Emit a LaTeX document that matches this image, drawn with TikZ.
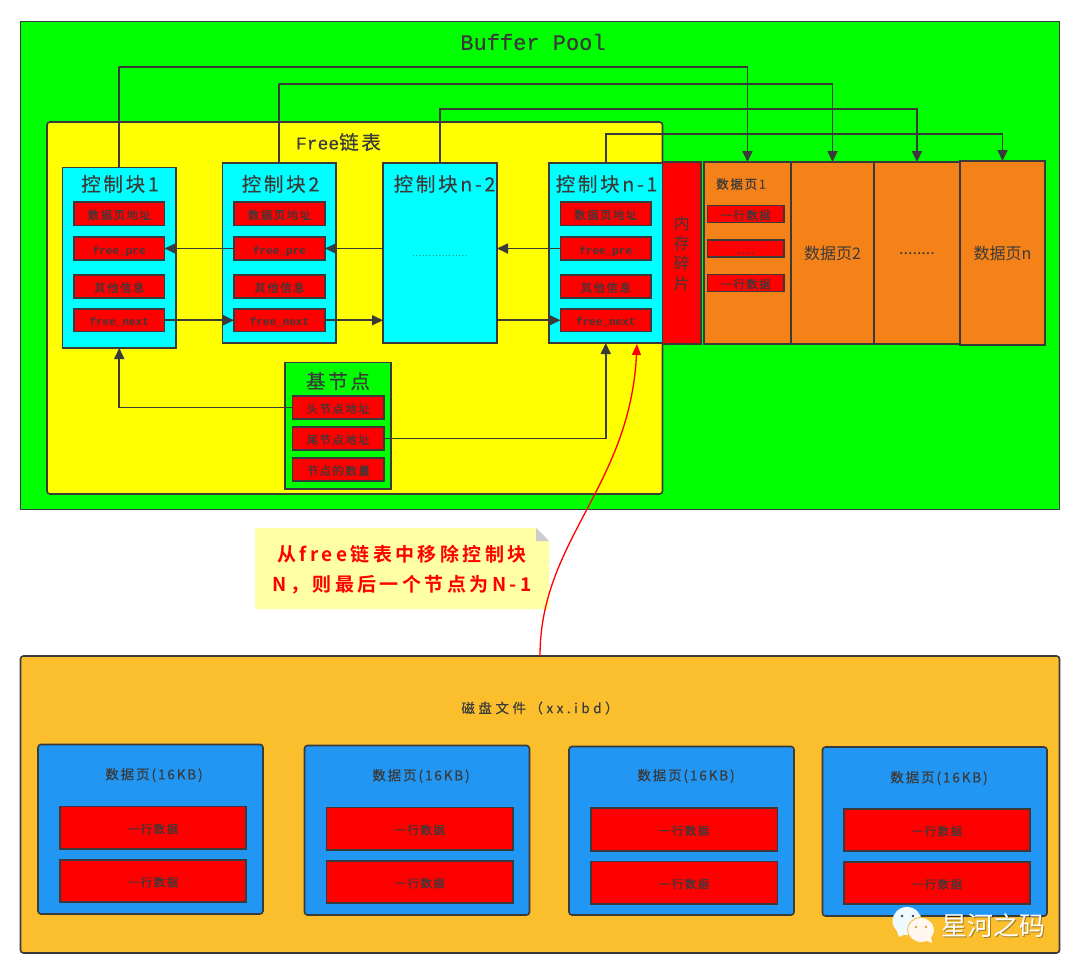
\documentclass[tikz,border=0pt]{standalone}
\usepackage{fontspec}
\usetikzlibrary{arrows.meta,calc}
\setmainfont{Noto Sans CJK SC}
\newfontfamily\cjk[LetterSpace=14]{Noto Sans CJK SC}
\newfontfamily\cjksmall[LetterSpace=12,FakeBold=0.5]{Noto Sans CJK SC}
\newfontfamily\cjkwide[LetterSpace=26,FakeBold=0.3]{Noto Sans CJK SC}
\newfontfamily\cjkhead[LetterSpace=14,FakeBold=0.3]{Noto Sans CJK SC}
\newfontfamily\cjkplain{Noto Sans CJK SC}
\newfontfamily\cjkbold[LetterSpace=18]{Noto Sans CJK SC Bold}
\newfontfamily\mono[FakeBold=0.3]{Liberation Mono}
\newfontfamily\monobold{Liberation Mono Bold}
\definecolor{ink}{HTML}{3A3A3A}
\definecolor{poolgreen}{HTML}{00FF00}
\definecolor{freeyellow}{HTML}{FFFF00}
\definecolor{ctrlcyan}{HTML}{00FFFF}
\definecolor{redfill}{HTML}{FF0000}
\definecolor{pageorange}{HTML}{F58218}
\definecolor{diskamber}{HTML}{FBBF2D}
\definecolor{pageblue}{HTML}{2196F3}
\definecolor{notefill}{HTML}{FFFFA6}
\definecolor{notefold}{HTML}{CCCCCC}
\tikzset{
  every node/.style={inner sep=0pt,outer sep=0pt,text=ink},
  box/.style={draw=ink,line width=1.6pt,align=center},
  pool/.style={box,fill=poolgreen},
  freelist/.style={box,fill=freeyellow,rounded corners=3pt},
  ctrl/.style={box,fill=ctrlcyan},
  field/.style={box,fill=redfill,font=\cjksmall\fontsize{11.5}{12}\selectfont,text height=11pt,text depth=0pt},
  latinfield/.style={field,font=\monobold\fontsize{11}{12}\selectfont},
  basebox/.style={box,fill=poolgreen},
  frag/.style={box,fill=redfill,font=\cjkplain\fontsize{16}{20}\selectfont},
  datapage/.style={box,fill=pageorange,font=\cjkplain\fontsize{16}{18}\selectfont},
  disk/.style={box,fill=diskamber,rounded corners=3pt},
  diskpage/.style={box,fill=pageblue,rounded corners=3pt},
  rowbox/.style={box,fill=redfill,font=\cjksmall\fontsize{11.5}{12}\selectfont,text height=11pt,text depth=0pt},
  heading/.style={font=\cjkhead\fontsize{19.5}{22}\selectfont},
  smallhead/.style={font=\cjkhead\fontsize{13.5}{14}\selectfont},
  link/.style={draw=ink,line width=1.7pt,-{Triangle[length=11pt,width=10pt]}},
  redlink/.style={draw=red,line width=1.3pt,-{Triangle[length=11pt,width=9pt]}},
  mark text/.style={text=white,font=\cjkplain\fontsize{26}{28}\selectfont},
}
\newcommand{\bx}[7][]{\node[#6,minimum width={(#4-#2)*1pt},minimum height={(#5-#3)*1pt},#1] at ({(#2+#4)/2},{(#3+#5)/2}) {#7};}
\begin{document}
\begin{tikzpicture}[x=1pt,y=-1pt]
\useasboundingbox (0,0) rectangle (1080,974);
\fill[white] (0,0) rectangle (1080,974);
% buffer pool
\bx[name=pool]{20.5}{21.5}{1059.5}{509.5}{pool}{}
\node[font=\mono\fontsize{22}{24}\selectfont] (pooltitle) at (533,42) {Buffer Pool};
\bx[name=free]{47}{122}{662.5}{494}{freelist}{}
\node[font=\mono\fontsize{18}{20}\selectfont,anchor=west] (freelabel) at (296,142) {Free\cjkhead\fontsize{19.5}{20}\selectfont 链表};
% control blocks
\bx[name=c1]{62.5}{167.5}{176}{348}{ctrl}{}
\bx[name=c2]{222.5}{163}{336}{343}{ctrl}{}
\bx[name=c3]{383}{163}{497}{343}{ctrl}{}
\bx[name=c4]{549}{163}{662.5}{343}{ctrl}{}
\node[heading] (h1) at (120,184) {控制块1};
\node[heading] (h2) at (280.5,184) {控制块2};
\node[heading] (h3) at (444.5,184) {控制块n-2};
\node[heading] (h4) at (606.5,184) {控制块n-1};
\node[font=\monobold\fontsize{5.5}{8}\selectfont] (dots3) at (440,256) {.................};
% fields
\bx[name=a1]{74}{202}{164.5}{225.5}{field}{数据页地址}
\bx[name=p1]{74}{237}{164.5}{260}{latinfield}{free\_pre}
\bx[name=o1]{74}{275}{164.5}{298}{field}{其他信息}
\bx[name=n1]{74}{309}{164.5}{331.5}{latinfield}{free\_next}
\bx[name=a2]{234}{202}{325}{225.5}{field}{数据页地址}
\bx[name=p2]{234}{237}{325}{260}{latinfield}{free\_pre}
\bx[name=o2]{234}{275}{325}{298}{field}{其他信息}
\bx[name=n2]{234}{309}{325}{331.5}{latinfield}{free\_next}
\bx[name=a4]{560.5}{202}{651}{225.5}{field}{数据页地址}
\bx[name=p4]{560.5}{237}{651}{260}{latinfield}{free\_pre}
\bx[name=o4]{560.5}{275}{651}{298}{field}{其他信息}
\bx[name=n4]{560.5}{309}{651}{331.5}{latinfield}{free\_next}
% fragment and pages
\bx[name=fragbox]{662.5}{162}{701}{344}{frag}{内\\存\\碎\\片}
\bx[name=pg1]{704}{162}{791}{344}{datapage}{}
\bx[name=pg2]{791}{162}{874}{344}{datapage}{数据页2}
\bx[name=pg3]{874}{162}{960}{344}{datapage}{\raisebox{-3pt}{........}}
\bx[name=pg4]{960}{161}{1045}{345}{datapage}{数据页n}
\node[smallhead,font=\cjkhead\fontsize{12.5}{14}\selectfont] (pg1title) at (741,184) {数据页1};
\bx[name=r1]{707.5}{205.5}{784}{222.5}{rowbox}{一行数据}
\bx[name=r2]{707.5}{240}{784}{257}{rowbox}{....}
\bx[name=r3]{707.5}{274.5}{784}{291.5}{rowbox}{一行数据}
% base node
\bx[name=base]{285}{362.5}{391}{489}{basebox}{}
\node[heading] (basetitle) at (338,381) {基节点};
\bx[name=b1]{292.5}{396}{384}{419}{field}{头节点地址}
\bx[name=b2]{292.5}{427}{384}{450}{field}{尾节点地址}
\bx[name=b3]{292.5}{458}{384}{481}{field}{节点的数量}
% connectors
\draw[link] (p2.west) -- (p1.east);
\draw[link] (c3.west |- p2.east) -- (p2.east);
\draw[link] (p4.west) -- (c3.east |- p4.west);
\draw[link] (n1.east) -- (n2.west);
\draw[link] (n2.east) -- (c3.west |- n2.east);
\draw[link] (c3.east |- n4.west) -- (n4.west);
\draw[link] (b1.west) -| (c1.south);
\draw[link] (b2.east) -| (c4.south);
\draw[link] (c1.north) |- (119,67) -| (pg1.north);
\draw[link] (c2.north) |- (279,84) -| (pg2.north);
\draw[link] (c3.north) |- (440,109) -| (pg3.north);
\draw[link] (c4.north) |- (606,134) -| (pg4.north);
% disk
\bx[name=diskbox]{20.5}{656}{1059.5}{953}{disk}{}
\node[font=\cjkwide\fontsize{13.5}{14}\selectfont] (disktitle) at (540,708) {磁盘文件（xx.ibd）};
\bx[name=d1]{38}{744.5}{263}{914}{diskpage}{}
\bx[name=d2]{304.5}{745.5}{529.5}{915}{diskpage}{}
\bx[name=d3]{569}{746.5}{794}{915}{diskpage}{}
\bx[name=d4]{822.5}{747}{1047}{916}{diskpage}{}
\node[smallhead] (dt1) at (154,775) {数据页(16KB)};
\node[smallhead] (dt2) at (421,776) {数据页(16KB)};
\node[smallhead] (dt3) at (686,776) {数据页(16KB)};
\node[smallhead] (dt4) at (939,778) {数据页(16KB)};
\bx[name=d1a]{60}{806.5}{246}{849}{rowbox}{一行数据}
\bx[name=d1b]{60}{860}{246}{902}{rowbox}{一行数据}
\bx[name=d2a]{326.5}{807.5}{513}{850}{rowbox}{一行数据}
\bx[name=d2b]{326.5}{861}{513}{903}{rowbox}{一行数据}
\bx[name=d3a]{591}{808}{777.5}{851}{rowbox}{一行数据}
\bx[name=d3b]{591}{861.5}{777.5}{904}{rowbox}{一行数据}
\bx[name=d4a]{844}{809}{1030}{851}{rowbox}{一行数据}
\bx[name=d4b]{844}{862}{1030}{904}{rowbox}{一行数据}
% note
\fill[notefill] (255,528) -- (536,528) -- (549,541) -- (549,609) -- (255,609) -- cycle;
\fill[notefold] (536,528) -- (549,541) -- (536,541) -- cycle;
\node[text=red,align=center,font=\cjkbold\fontsize{19}{30}\selectfont] (note) at (402,570) {从free链表中移除控制块\\N，则最后一个节点为N-1};
% red curve
\coordinate (hit) at (637,344);
\draw[redlink] (diskbox.north) .. controls (540,540) and (630,487) .. (hit);
% watermark
\fill[white!90!cyan!60!white] (907,921) ellipse (14.5 and 14);
\fill[white!90!cyan!60!white] (897,931) -- (899,937) -- (907,933) -- cycle;
\fill[white!94!orange,draw=diskamber,line width=.8pt] (921,930) ellipse (13.5 and 12.5);
\fill[white!94!orange] (925,940) -- (932,943) -- (931,936) -- cycle;
\fill[ink] (902,916) circle (1.4) (913,916) circle (1.4);
\fill[diskamber!85!black] (916,927) circle (1.4) (926,927) circle (1.4);
\node[mark text,opacity=.35,text=black] (markshadow) at (994,927) {星河之码};
\node[mark text] (markname) at (993,926) {星河之码};
\end{tikzpicture}
\end{document}
